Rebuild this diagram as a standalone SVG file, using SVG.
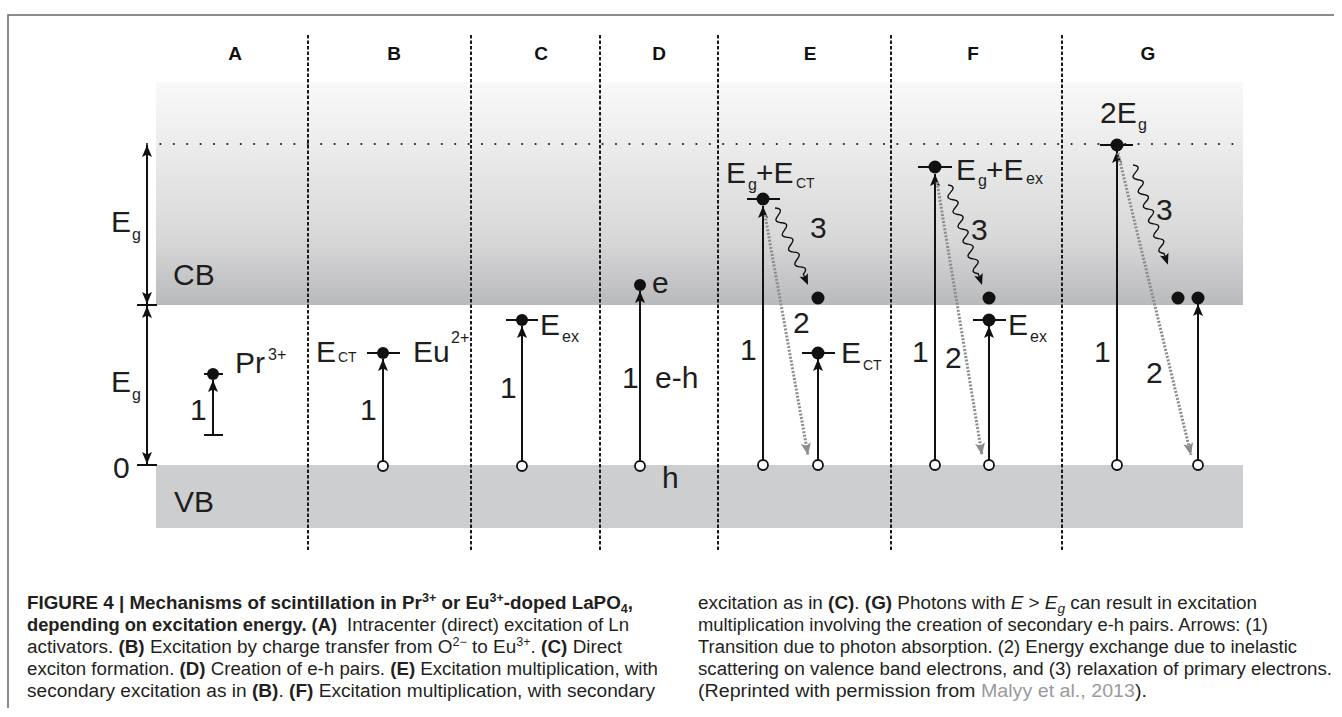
<svg xmlns="http://www.w3.org/2000/svg" width="1342" height="717" viewBox="0 0 1342 717">
<defs>
  <linearGradient id="cbFill" x1="0" y1="82" x2="0" y2="305" gradientUnits="userSpaceOnUse">
    <stop offset="0" stop-color="#f9f9f9"/>
    <stop offset="0.3" stop-color="#ebebeb"/>
    <stop offset="0.7" stop-color="#d8d8d9"/>
    <stop offset="1" stop-color="#b9babc"/>
  </linearGradient>
  <marker id="ah" viewBox="0 0 12 10" refX="12" refY="5" markerWidth="12" markerHeight="10" markerUnits="userSpaceOnUse" orient="auto-start-reverse">
    <path d="M0,0 L12,5 L0,10 L2.5,5 z" fill="#111"/>
  </marker>
  <marker id="ahGray" viewBox="0 0 12 10" refX="12" refY="5" markerWidth="12" markerHeight="10" markerUnits="userSpaceOnUse" orient="auto">
    <path d="M0,0 L12,5 L0,10 L2.5,5 z" fill="#8c8c8c"/>
  </marker>
  <style>
    .lbl{font-family:"Liberation Sans",Arial,sans-serif;font-size:30px;fill:#1e1e1e}
    .sub{font-size:16px}
    .ct{font-size:14px}
    .panel{font-family:"Liberation Sans",Arial,sans-serif;font-size:19px;font-weight:bold;fill:#111;text-anchor:middle}
    .div{stroke:#1a1a1a;stroke-width:2;stroke-dasharray:3.5 2;fill:none}
    .dots{stroke:#222;stroke-width:2.2;stroke-linecap:round;stroke-dasharray:0 13.4;fill:none}
    .arr{stroke:#111;stroke-width:2;fill:none;marker-end:url(#ah)}
    .dbl{stroke:#111;stroke-width:2;fill:none;marker-start:url(#ah);marker-end:url(#ah)}
    .exch{stroke:#8c8c8c;stroke-width:3;stroke-dasharray:2 1.6;fill:none;marker-end:url(#ahGray)}
    .wave{stroke:#111;stroke-width:1.4;fill:none}
    .whead{fill:#111}
    .lvl{stroke:#111;stroke-width:2}
    .e{fill:#111}
    .h{fill:#fff;stroke:#111;stroke-width:1.8}
    .frame{stroke:#666;stroke-width:1.5;fill:none}
    .cap{font-family:"Liberation Sans",Arial,sans-serif;font-size:18px;fill:#231f20}
    .b{font-weight:bold}
    .link{fill:#9a9a9a}
  </style>
</defs>

<rect width="1342" height="717" fill="#fff"/>
<path class="frame" d="M8,708 V15 H1334"/>

<!-- bands -->
<g id="bands">
  <rect x="156" y="82" width="1087" height="223" fill="url(#cbFill)"/>
  <rect x="156" y="465" width="1087" height="63" fill="#cdcecf"/>
  <line class="dots" x1="147" y1="144" x2="1240" y2="144"/>
</g>

<!-- panel separators -->
<g id="separators">
  <line class="div" x1="308" y1="35" x2="308" y2="552"/>
  <line class="div" x1="471" y1="35" x2="471" y2="552"/>
  <line class="div" x1="600" y1="35" x2="600" y2="552"/>
  <line class="div" x1="718" y1="35" x2="718" y2="552"/>
  <line class="div" x1="891" y1="35" x2="891" y2="552"/>
  <line class="div" x1="1062" y1="35" x2="1062" y2="552"/>
</g>

<g id="panel-letters">
  <text class="panel" x="235" y="60">A</text>
  <text class="panel" x="394" y="60">B</text>
  <text class="panel" x="541" y="60">C</text>
  <text class="panel" x="659" y="60">D</text>
  <text class="panel" x="810" y="60">E</text>
  <text class="panel" x="973" y="60">F</text>
  <text class="panel" x="1148" y="60">G</text>
</g>

<!-- energy axis -->
<g id="axis">
  <line class="lvl" x1="137" y1="305" x2="157" y2="305"/>
  <line class="lvl" x1="137" y1="465" x2="157" y2="465"/>
  <text class="lbl" x="111" y="232">E<tspan class="sub" x="132" y="240">g</tspan></text>
  <text class="lbl" x="111" y="392">E<tspan class="sub" x="132" y="400">g</tspan></text>
  <text class="lbl" x="113" y="478">0</text>
  <text class="lbl" x="173" y="285">CB</text>
  <text class="lbl" x="174" y="512">VB</text>
</g>

<!-- transitions -->
<g id="connectors">
  <line class="dbl" x1="147" y1="145" x2="147" y2="304"/>
  <line class="dbl" x1="147" y1="306" x2="147" y2="464"/>
  <!-- (1) photon absorption -->
  <line class="arr" x1="213" y1="435" x2="213" y2="380"/>
  <line class="arr" x1="383" y1="461" x2="383" y2="359"/>
  <line class="arr" x1="522" y1="461" x2="522" y2="326"/>
  <line class="arr" x1="640" y1="461" x2="640" y2="291"/>
  <line class="arr" x1="763" y1="460" x2="763" y2="206"/>
  <line class="arr" x1="818" y1="460" x2="818" y2="359"/>
  <line class="arr" x1="935" y1="460" x2="935" y2="174"/>
  <line class="arr" x1="989" y1="460" x2="989" y2="326"/>
  <line class="arr" x1="1117" y1="460" x2="1117" y2="151"/>
  <line class="arr" x1="1198" y1="460" x2="1198" y2="304"/>
  <!-- (2) inelastic energy exchange -->
  <line class="exch" x1="765" y1="215" x2="808" y2="455"/>
  <line class="exch" x1="937" y1="182" x2="982" y2="455"/>
  <line class="exch" x1="1118" y1="153" x2="1191" y2="455"/>
  <!-- (3) relaxation of primary electrons -->
  <g transform="translate(775,208) rotate(66.8)">
    <path class="wave" d="M0,0 c2.9,-5.3 5.1,-5.3 8,0 s5.1,5.3 8,0 s5.1,-5.3 8,0 s5.1,5.3 8,0 s5.1,-5.3 8,0 s5.1,5.3 8,0 s5.1,-5.3 8,0 s5.1,5.3 8,0 s5.1,-5.3 8,0 L75,0"/>
    <polygon class="whead" points="72.8,-4.5 83.8,0 72.8,4.5 75,0"/>
  </g>
  <g transform="translate(948,185) rotate(71.2)">
    <path class="wave" d="M0,0 c2.8,-5.3 5,-5.3 7.8,0 s5,5.3 7.8,0 s5,-5.3 7.8,0 s5,5.3 7.8,0 s5,-5.3 7.8,0 s5,5.3 7.8,0 s5,-5.3 7.8,0 s5,5.3 7.8,0 s5,-5.3 7.8,0 s5,5.3 7.8,0 s5,-5.3 7.8,0 s5,5.3 7.8,0 L97,0"/>
    <polygon class="whead" points="94.6,-4.5 105.6,0 94.6,4.5 96.8,0"/>
  </g>
  <g transform="translate(1133,165) rotate(70.7)">
    <path class="wave" d="M0,0 c2.8,-5.3 5,-5.3 7.8,0 s5,5.3 7.8,0 s5,-5.3 7.8,0 s5,5.3 7.8,0 s5,-5.3 7.8,0 s5,5.3 7.8,0 s5,-5.3 7.8,0 s5,5.3 7.8,0 s5,-5.3 7.8,0 s5,5.3 7.8,0 s5,-5.3 7.8,0 s5,5.3 7.8,0 L97,0"/>
    <polygon class="whead" points="94.6,-4.5 105.6,0 94.6,4.5 96.8,0"/>
  </g>
</g>

<!-- A: intracenter excitation -->
<g id="panel-A">
  <line class="lvl" x1="204" y1="435" x2="223" y2="435"/>
  <line class="lvl" x1="204" y1="374" x2="223" y2="374"/>
  <circle class="e" cx="213" cy="374" r="6"/>
  <text class="lbl" x="190" y="420">1</text>
  <text class="lbl" x="235" y="373">Pr<tspan class="sub" x="268" y="360">3+</tspan></text>
</g>

<!-- B: charge transfer -->
<g id="panel-B">
  <line class="lvl" x1="367" y1="353" x2="400" y2="353"/>
  <circle class="e" cx="383" cy="353" r="6"/>
  <circle class="h" cx="383" cy="466" r="5"/>
  <text class="lbl" x="316" y="362">E<tspan class="ct" x="338" y="362">CT</tspan></text>
  <text class="lbl" x="413" y="362">Eu<tspan class="sub" x="451" y="343">2+</tspan></text>
  <text class="lbl" x="360" y="420">1</text>
</g>

<!-- C: exciton -->
<g id="panel-C">
  <line class="lvl" x1="506" y1="320" x2="538" y2="320"/>
  <circle class="e" cx="522" cy="320" r="6"/>
  <circle class="h" cx="522" cy="466" r="5"/>
  <text class="lbl" x="540" y="335">E<tspan class="sub" x="562" y="342">ex</tspan></text>
  <text class="lbl" x="500" y="398">1</text>
</g>

<!-- D: e-h pair -->
<g id="panel-D">
  <circle class="e" cx="640" cy="285" r="6"/>
  <circle class="h" cx="640" cy="466" r="5"/>
  <text class="lbl" x="652" y="293">e</text>
  <text class="lbl" x="622" y="388">1</text>
  <text class="lbl" x="655" y="388">e-h</text>
  <text class="lbl" x="662" y="488">h</text>
</g>

<!-- E: multiplication via charge transfer -->
<g id="panel-E">
  <line class="lvl" x1="747" y1="199" x2="780" y2="199"/>
  <circle class="e" cx="763" cy="199" r="6.5"/>
  <circle class="e" cx="818" cy="298" r="6.5"/>
  <line class="lvl" x1="802" y1="353" x2="835" y2="353"/>
  <circle class="e" cx="818" cy="353" r="6.5"/>
  <circle class="h" cx="763" cy="465" r="5"/>
  <circle class="h" cx="818" cy="465" r="5"/>
  <text class="lbl" x="726" y="183">E<tspan class="sub" x="748" y="190">g</tspan><tspan x="756" y="183">+E</tspan><tspan class="ct" x="796" y="188">CT</tspan></text>
  <text class="lbl" x="810" y="238">3</text>
  <text class="lbl" x="793" y="333">2</text>
  <text class="lbl" x="740" y="360">1</text>
  <text class="lbl" x="841" y="363">E<tspan class="ct" x="863" y="370">CT</tspan></text>
</g>

<!-- F: multiplication via exciton -->
<g id="panel-F">
  <line class="lvl" x1="918" y1="167" x2="952" y2="167"/>
  <circle class="e" cx="935" cy="167" r="6.5"/>
  <circle class="e" cx="989" cy="298" r="6.5"/>
  <line class="lvl" x1="973" y1="320" x2="1006" y2="320"/>
  <circle class="e" cx="989" cy="320" r="6.5"/>
  <circle class="h" cx="935" cy="465" r="5"/>
  <circle class="h" cx="989" cy="465" r="5"/>
  <text class="lbl" x="956" y="180">E<tspan class="sub" x="978" y="186">g</tspan><tspan x="986" y="180">+E</tspan><tspan class="sub" x="1026" y="184">ex</tspan></text>
  <text class="lbl" x="971" y="240">3</text>
  <text class="lbl" x="912" y="362">1</text>
  <text class="lbl" x="945" y="368">2</text>
  <text class="lbl" x="1008" y="335">E<tspan class="sub" x="1030" y="342">ex</tspan></text>
</g>

<!-- G: secondary e-h pairs -->
<g id="panel-G">
  <line class="lvl" x1="1100" y1="145" x2="1133" y2="145"/>
  <circle class="e" cx="1117" cy="145" r="6.5"/>
  <circle class="e" cx="1178" cy="298" r="6.5"/>
  <circle class="e" cx="1198" cy="298" r="6.5"/>
  <circle class="h" cx="1117" cy="465" r="5"/>
  <circle class="h" cx="1198" cy="465" r="5"/>
  <text class="lbl" x="1100" y="123">2E<tspan class="sub" x="1138" y="130">g</tspan></text>
  <text class="lbl" x="1156" y="220">3</text>
  <text class="lbl" x="1094" y="362">1</text>
  <text class="lbl" x="1146" y="383">2</text>
</g>

<!-- caption -->
<g id="caption">
  <text class="cap b" x="27" y="609" textLength="606" lengthAdjust="spacingAndGlyphs">FIGURE 4 | Mechanisms of scintillation in Pr<tspan dy="-7" font-size="12">3+</tspan><tspan dy="7"> or Eu</tspan><tspan dy="-7" font-size="12">3+</tspan><tspan dy="7">-doped LaPO</tspan><tspan dy="4" font-size="12">4</tspan><tspan dy="-4">,</tspan></text>
  <text class="cap b" x="27" y="631" textLength="310" lengthAdjust="spacingAndGlyphs">depending on excitation energy. (A)</text>
  <text class="cap" x="347" y="631" textLength="282" lengthAdjust="spacingAndGlyphs">Intracenter (direct) excitation of Ln</text>
  <text class="cap" x="27" y="653" textLength="595" lengthAdjust="spacingAndGlyphs">activators. <tspan class="b">(B)</tspan> Excitation by charge transfer from O<tspan dy="-7" font-size="12">2−</tspan><tspan dy="7"> to Eu</tspan><tspan dy="-7" font-size="12">3+</tspan><tspan dy="7">. </tspan><tspan class="b">(C)</tspan> Direct</text>
  <text class="cap" x="27" y="675" textLength="631" lengthAdjust="spacingAndGlyphs">exciton formation. <tspan class="b">(D)</tspan> Creation of e-h pairs. <tspan class="b">(E)</tspan> Excitation multiplication, with</text>
  <text class="cap" x="27" y="697" textLength="628" lengthAdjust="spacingAndGlyphs">secondary excitation as in <tspan class="b">(B)</tspan>. <tspan class="b">(F)</tspan> Excitation multiplication, with secondary</text>

  <text class="cap" x="698" y="609" textLength="559" lengthAdjust="spacingAndGlyphs">excitation as in <tspan class="b">(C)</tspan>. <tspan class="b">(G)</tspan> Photons with <tspan font-style="italic">E</tspan> &gt; <tspan font-style="italic">E</tspan><tspan font-style="italic" dy="4" font-size="13">g</tspan><tspan dy="-4"> can result in excitation</tspan></text>
  <text class="cap" x="698" y="631" textLength="570" lengthAdjust="spacingAndGlyphs">multiplication involving the creation of secondary e-h pairs. Arrows: (1)</text>
  <text class="cap" x="698" y="653" textLength="599" lengthAdjust="spacingAndGlyphs">Transition due to photon absorption. (2) Energy exchange due to inelastic</text>
  <text class="cap" x="698" y="675" textLength="634" lengthAdjust="spacingAndGlyphs">scattering on valence band electrons, and (3) relaxation of primary electrons.</text>
  <text class="cap" x="698" y="697" textLength="449" lengthAdjust="spacingAndGlyphs">(Reprinted with permission from <tspan class="link">Malyy et al., 2013</tspan>).</text>
</g>
</svg>
